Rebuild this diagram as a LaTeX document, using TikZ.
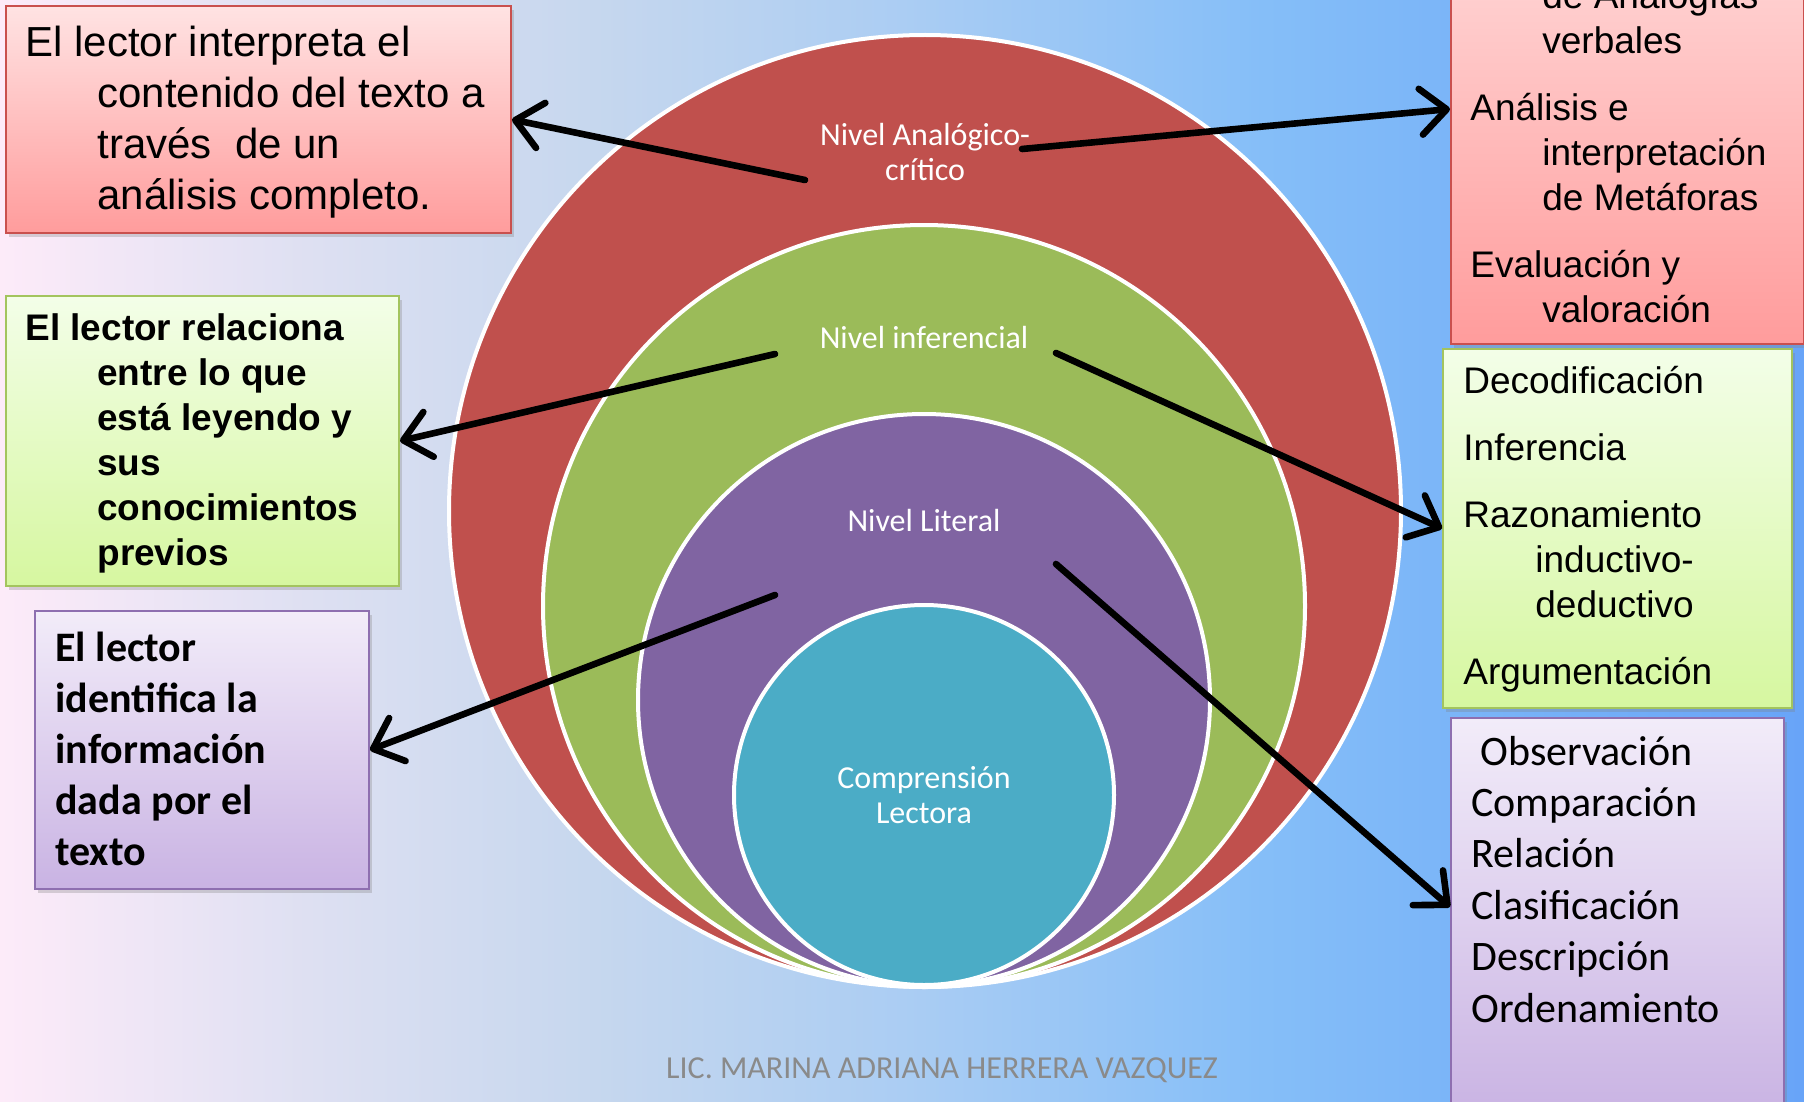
\documentclass[tikz,border=0pt]{standalone}
\usepackage{fontspec}
\setmainfont{Liberation Sans}
\newfontfamily\calib{Carlito}
\usetikzlibrary{arrows.meta,shadows}

\definecolor{bgA}{HTML}{FDEBF9}
\definecolor{bgB}{HTML}{DEE0F2}
\definecolor{bgC}{HTML}{C6D7EE}
\definecolor{bgD}{HTML}{ABCDF3}
\definecolor{bgE}{HTML}{85BEF8}
\definecolor{bgF}{HTML}{68A4F8}
\definecolor{redC}{HTML}{C0504D}
\definecolor{greenC}{HTML}{9BBB59}
\definecolor{purpleC}{HTML}{8064A2}
\definecolor{tealC}{HTML}{4BACC6}
\definecolor{redTop}{HTML}{FFE3E3}
\definecolor{redBot}{HTML}{FF9C9C}
\definecolor{redBrd}{HTML}{C9504E}
\definecolor{grnTop}{HTML}{F3FEE8}
\definecolor{grnBot}{HTML}{D6F7A0}
\definecolor{grnBrd}{HTML}{A3C45E}
\definecolor{purTop}{HTML}{F2ECF9}
\definecolor{purBot}{HTML}{C9B3E3}
\definecolor{purBrd}{HTML}{8E6FB0}
\definecolor{footC}{HTML}{8A8A8A}

\pgfdeclarehorizontalshading{bgshade}{100bp}{color(0bp)=(bgA); color(25bp)=(bgA); color(33.5bp)=(bgB); color(41.5bp)=(bgC); color(50bp)=(bgD); color(60bp)=(bgE); color(75bp)=(bgF); color(100bp)=(bgF)}

\tikzset{
  ring/.style={circle, draw=white, line width=2pt, inner sep=0pt},
  lvl/.style={text=white, align=center, font=\calib\fontsize{16}{17.5}\selectfont, inner sep=0pt},
  boxbase/.style={rectangle, inner sep=0pt, line width=1pt, anchor=north west,
    drop shadow={opacity=.3, shadow xshift=1.5pt, shadow yshift=-2pt}},
  redbox/.style={boxbase, draw=redBrd, top color=redTop, bottom color=redBot},
  grnbox/.style={boxbase, draw=grnBrd, top color=grnTop, bottom color=grnBot},
  purbox/.style={boxbase, draw=purBrd, top color=purTop, bottom color=purBot},
  txt/.style={align=left, anchor=base west, inner sep=0pt, text=black},
  arr/.style={line width=3.3pt, line cap=round, -{Straight Barb[length=13pt,width=23pt,round]}},
  foot/.style={text=footC, font=\calib\fontsize{16}{18}\selectfont, inner sep=0pt}
}

\begin{document}
\begin{tikzpicture}[x=0.5pt,y=-0.5pt]
\useasboundingbox (0,0) rectangle (1804,1102);
\clip (0,0) rectangle (1804,1102);
\shade[shading=bgshade] (0,0) rectangle (1804,1102);

% concentric circles
\node[ring, fill=redC, minimum size=476pt] (cR) at (925,511) {};
\node[ring, fill=greenC, minimum size=381pt] (cG) at (924,606) {};
\node[ring, fill=purpleC, minimum size=286pt] (cP) at (924,700) {};
\node[ring, fill=tealC, minimum size=190pt] (cT) at (924,795) {};

% circle labels
\node[lvl] (lA) at (925,152) {Nivel Analógico-\\crítico};
\node[lvl] (lI) at (924,338) {Nivel inferencial};
\node[lvl] (lL) at (924,521) {Nivel Literal};
\node[lvl] (lC) at (924,795) {Comprensión\\Lectora};

% boxes
\node[redbox, minimum width=252.5pt, minimum height=113.5pt] (b1) at (5,5) {};
\node[grnbox, minimum width=196.5pt, minimum height=145pt] (b2) at (5,295) {};
\node[purbox, minimum width=167pt, minimum height=139pt] (b3) at (34,610) {};
\node[redbox, minimum width=176.5pt, minimum height=246.5pt] (b4) at (1450,-150) {};
\node[grnbox, minimum width=174.5pt, minimum height=179.5pt] (b5) at (1442,348) {};
\node[purbox, minimum width=166.5pt, minimum height=199pt] (b6) at (1450,717) {};

% box texts (anchored at the baseline of the last line)
\node[txt, font=\fontsize{21}{25.5}\selectfont] (t1) at (25,209)
  {El lector interpreta el\\\hspace*{36pt}contenido del texto a\\\hspace*{36pt}través\ \ de un\\\hspace*{36pt}análisis completo.};
\node[txt, font=\bfseries\fontsize{18.5}{22.5}\selectfont] (t2) at (25,565)
  {El lector relaciona\\\hspace*{36pt}entre lo que\\\hspace*{36pt}está leyendo y\\\hspace*{36pt}sus\\\hspace*{36pt}conocimientos\\\hspace*{36pt}previos};
\node[txt, font=\calib\bfseries\fontsize{21}{25.5}\selectfont] (t3) at (55,865)
  {El lector\\identifica la\\información\\dada por el\\texto};
\node[txt, font=\fontsize{18.5}{22.5}\selectfont] (t4) at (1470,322)
  {\hspace*{36pt}de Analogías\\\hspace*{36pt}verbales\\[11pt]Análisis e\\\hspace*{36pt}interpretación\\\hspace*{36pt}de Metáforas\\[11pt]Evaluación y\\\hspace*{36pt}valoración};
\node[txt, font=\fontsize{18.5}{22.5}\selectfont] (t5) at (1463,684)
  {Decodificación\\[11pt]Inferencia\\[11pt]Razonamiento\\\hspace*{36pt}inductivo-\\\hspace*{36pt}deductivo\\[11pt]Argumentación};
\node[txt, font=\calib\fontsize{21}{25.7}\selectfont] (t6) at (1471,1022)
  {\hspace*{4.5pt}Observación\\Comparación\\Relación\\Clasificación\\Descripción\\Ordenamiento};

% footer
\node[foot] (ft) at (942,1070) {LIC. MARINA ADRIANA HERRERA VAZQUEZ};

% arrow anchors
\coordinate (s1) at (805,180);
\coordinate (s2) at (1022,149);
\coordinate (s3) at (775,354);
\coordinate (s4) at (1056,353);
\coordinate (s5) at (775,595);
\coordinate (s6) at (1056,564);
\coordinate (e2) at (1450,109);
\coordinate (e6) at (1450,907);

\draw[arr] (s1) -- (b1.east);
\draw[arr] (s2) -- (e2);
\draw[arr] (s3) -- (b2.east);
\draw[arr] (s4) -- (b5.west);
\draw[arr] (s5) -- (b3.east);
\draw[arr] (s6) -- (e6);
\end{tikzpicture}
\end{document}
